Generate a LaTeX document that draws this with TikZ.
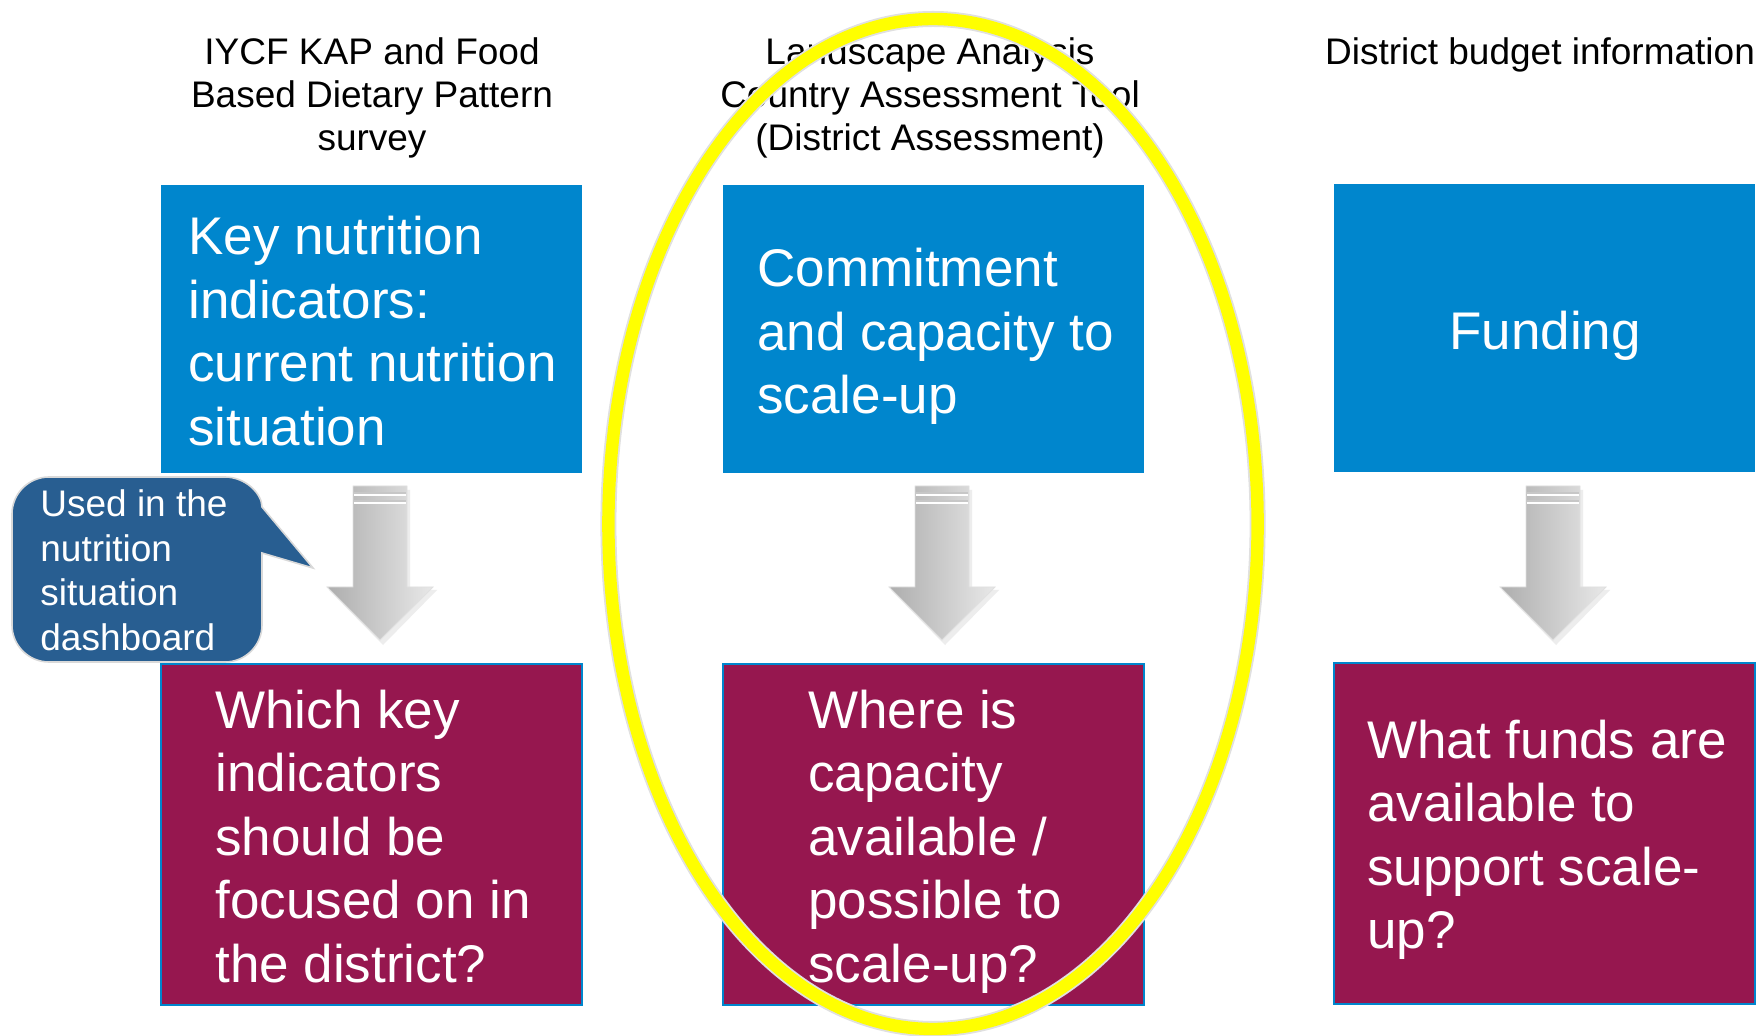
\documentclass[tikz,border=0pt]{standalone}
\usepackage{fontspec}
\setmainfont{Liberation Sans}
\definecolor{boxblue}{RGB}{0,134,205}
\definecolor{boxmaroon}{RGB}{150,23,79}
\definecolor{calloutblue}{RGB}{40,94,145}
\definecolor{ringyellow}{RGB}{255,255,0}
\newcommand{\leftlines}[1]{\vtop{\halign{##\hfil\cr#1\crcr}}}
\newcommand{\midlines}[1]{\vtop{\halign{\hfil##\hfil\cr#1\crcr}}}
\tikzset{
  topbox/.style={rectangle, fill=boxblue, draw=none, inner sep=0pt, outer sep=0pt,
    minimum width=210.5pt, minimum height=144pt},
  qbox/.style={rectangle, fill=boxmaroon, draw=boxblue, line width=1pt, inner sep=0pt, outer sep=0pt,
    minimum width=210.5pt, minimum height=170.5pt},
  headtxt/.style={inner sep=0pt, anchor=base, text=black,
    font=\fontsize{18.5pt}{21.5pt}\selectfont},
  bigtxt/.style={inner sep=0pt, anchor=base west, text=white,
    font=\fontsize{26.5pt}{31.75pt}\selectfont},
  calltxt/.style={inner sep=0pt, anchor=base west, text=white,
    font=\fontsize{18.5pt}{22.2pt}\selectfont},
  arrowbody/.style={left color=black!32, right color=black!9, draw=black!12, line width=0.4pt},
  arrowshadow/.style={fill=black!7, draw=none},
}
\newcommand{\downarrowshape}[1]{%
  \begin{scope}[shift={(#1,486)}]
    \fill[arrowshadow] (-24,4) -- (30,4) -- (30,104) -- (57,104) -- (3,159) -- (-51,104) -- (-24,104) -- cycle;
    \path[arrowbody] (-27,0) -- (27,0) -- (27,101) -- (53,101) -- (0,154) -- (-53,101) -- (-27,101) -- cycle;
    \draw[black!22, line width=0.8pt] (-26,7) -- (26,7);
    \draw[white, line width=0.8pt] (-26,9) -- (26,9);
    \draw[black!22, line width=0.8pt] (-26,15) -- (26,15);
    \draw[white, line width=0.8pt] (-26,17) -- (26,17);
  \end{scope}}
\begin{document}
\begin{tikzpicture}[x=0.5pt, y=-0.5pt]
\useasboundingbox[fill=white] (0,0) rectangle (1760,1036);

% boxes
\node[topbox] (b1) at (371.5,329) {};
\node[topbox] (b2) at (933.5,329) {};
\node[topbox] (b3) at (1544.5,328.5) {};
\node[qbox] (q1) at (371.5,834.5) {};
\node[qbox] (q2) at (933.5,834.5) {};
\node[qbox] (q3) at (1544,833.5) {};

% header texts
\node[headtxt] (h1) at (372,65) {\midlines{IYCF KAP and Food\cr Based Dietary Pattern\cr survey}};
\node[headtxt] (h2) at (930,65) {\midlines{Landscape Analysis\cr Country Assessment Tool\cr (District Assessment)}};
\node[headtxt] (h3) at (1540,65) {District budget information};

% block arrows
\downarrowshape{380}
\downarrowshape{942}
\downarrowshape{1553}

% callout
\path[fill=calloutblue, draw=black!15, line width=0.8pt]
  (12,514) .. controls (12,493.6) and (28.6,477) .. (49,477) -- (225,477)
  .. controls (245.4,477) and (262,493.6) .. (262,507)
  -- (313,568) -- (262,553) -- (262,625) .. controls (262,645.4) and (245.4,662) .. (225,662)
  -- (49,662) .. controls (28.6,662) and (12,645.4) .. (12,625) -- cycle;
\node[calltxt] (c1) at (40,517) {\leftlines{Used in the\cr nutrition\cr situation\cr dashboard}};

% highlight ring
\draw[black!12, line width=8pt] (933,524) ellipse [x radius=162.3pt, y radius=252.5pt];
\draw[ringyellow, line width=6.2pt] (933,524) ellipse [x radius=162.3pt, y radius=252.5pt];

% box texts
\node[bigtxt] (t1) at (188,255) {\leftlines{Key nutrition\cr indicators:\cr current nutrition\cr situation}};
\node[bigtxt] (t2) at (757,287) {\leftlines{Commitment\cr and capacity to\cr scale-up}};
\node[bigtxt, anchor=base] (t3) at (1545,350) {Funding};
\node[bigtxt] (t4) at (215,728) {\leftlines{Which key\cr indicators\cr should be\cr focused on in\cr the district?}};
\node[bigtxt] (t5) at (808,728) {\leftlines{Where is\cr capacity\cr available /\cr possible to\cr scale-up?}};
\node[bigtxt] (t6) at (1367,758) {\leftlines{What funds are\cr available to\cr support scale-\cr up?}};
\end{tikzpicture}
\end{document}
